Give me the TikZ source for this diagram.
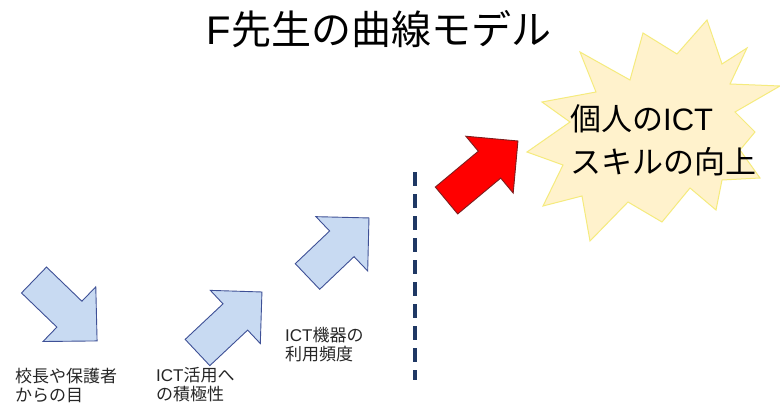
\documentclass[tikz,border=0pt]{standalone}
\usepackage{fontspec}
\setmainfont{Noto Sans CJK JP}
\newfontfamily\lat{Liberation Sans}
\definecolor{bfill}{RGB}{200,218,242}
\definecolor{bline}{RGB}{62,80,150}
\definecolor{rfill}{RGB}{255,0,0}
\definecolor{rline}{RGB}{125,30,30}
\definecolor{burstfill}{RGB}{255,242,204}
\definecolor{burstline}{RGB}{245,235,125}
\definecolor{dashcol}{RGB}{31,56,100}
\definecolor{labcol}{RGB}{38,38,38}
\newcommand\arrowpath[4]{(0,#4) -- ({#1-#2},#4) -- ({#1-#2},#3) -- (#1,0) -- ({#1-#2},-#3) -- ({#1-#2},-#4) -- (0,-#4) -- cycle}
\tikzset{
  bluearrow/.style={fill=bfill, draw=bline, line width=0.9pt, line join=miter},
  redarrow/.style={fill=rfill, draw=rline, line width=0.9pt, line join=miter},
  lab/.style={anchor=north west, inner sep=0pt, align=left, text=labcol, font=\fontsize{17}{19}\selectfont},
}
\begin{document}
\begin{tikzpicture}[x=1pt,y=1pt]
\useasboundingbox (0,0) rectangle (780,408);
\fill[white] (0,0) rectangle (780,408);
% title
\node[inner sep=0pt, font=\fontsize{40}{44}\selectfont] (title) at (379,379) {{\lat F}先生の曲線モデル};
% blue arrows
\draw[bluearrow, shift={(34,128)}, rotate=-44] \arrowpath{87.7}{38.5}{38}{18};
\draw[bluearrow, shift={(197.5,55.5)}, rotate=43.2] \arrowpath{88.4}{36.5}{36.5}{18};
\draw[bluearrow, shift={(307.5,131.5)}, rotate=43.6] \arrowpath{84.9}{37.5}{37.5}{17.7};
% red arrow
\draw[redarrow, shift={(446.5,207.5)}, rotate=39.8] \arrowpath{93}{37}{37}{17.5};
% dashed line
\coordinate (dtop) at (415,236);
\coordinate (dbot) at (415,28);
\draw[dashcol, line width=3.5pt, dash pattern=on 14pt off 8pt] (dtop) -- (dbot);
% burst
\draw[fill=burstfill, draw=burstline, line width=1pt, line join=miter]
 (707,388) -- (722,344) -- (747,360) -- (730,324) -- (780,322) -- (735,296) --
 (755,276) -- (740,258) -- (760,230) -- (722,228) -- (716,198) -- (690,220) --
 (662,186) -- (628,206) -- (590,167) -- (582,212) -- (543,202) -- (563,243) --
 (527,256) -- (570,286) -- (542,306) -- (596,316) -- (580,356) -- (630,328) --
 (643,375) -- (677,354) -- cycle;
\node[anchor=north west, inner sep=0pt, align=left, font=\fontsize{31}{43}\selectfont] (burst) at (570,304) {個人の{\lat ICT}\\スキルの向上};
% labels
\node[lab] (l1) at (15,40) {校長や保護者\\からの目};
\node[lab] (l2) at (156,41) {{\lat ICT}活用へ\\の積極性};
\node[lab] (l3) at (285,81) {{\lat ICT}機器の\\利用頻度};
\end{tikzpicture}
\end{document}
